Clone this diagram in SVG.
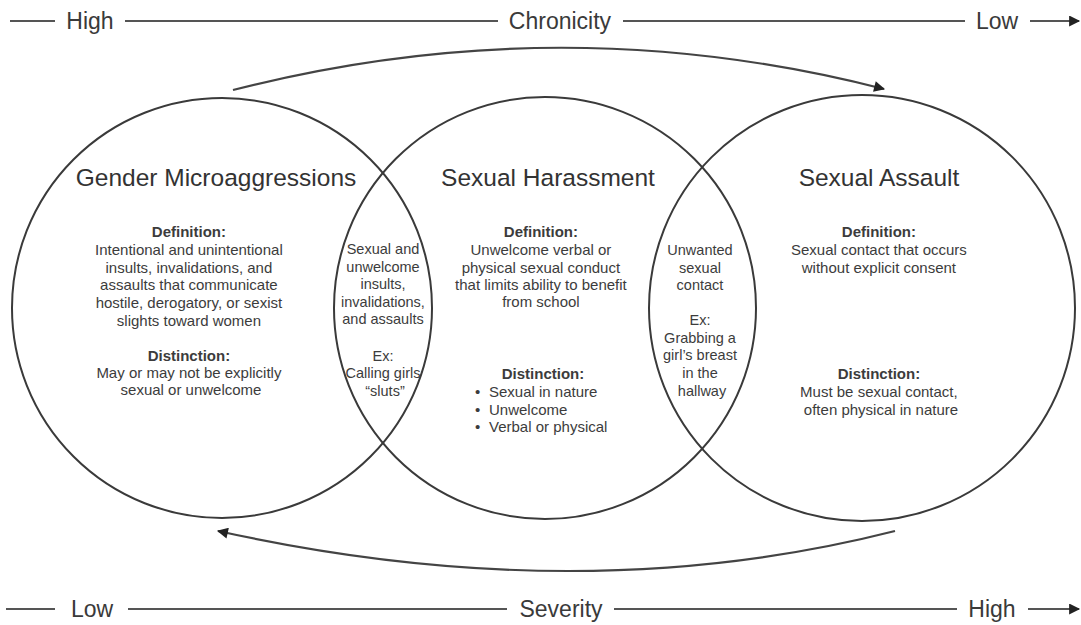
<svg xmlns="http://www.w3.org/2000/svg" width="1081" height="625" viewBox="0 0 1081 625">
<defs>
<marker id="ah2" viewBox="0 0 10 10" refX="9" refY="5" markerWidth="13" markerHeight="11" markerUnits="userSpaceOnUse" orient="auto">
<path d="M0,0 L10,5 L0,10 z" fill="#222"/>
</marker>
</defs>
<style>
text{font-family:"Liberation Sans",Arial,Helvetica,sans-serif;fill:#333}
.axis{font-size:23px;text-anchor:middle;fill:#3a3a3a}
.title{font-size:24.5px;text-anchor:middle;fill:#333}
.body{font-size:15px;text-anchor:middle;fill:#3c3c3c}
.lens{font-size:14.5px}
.lbl{font-weight:bold}
.circ{fill:none;stroke:#3a3a3a;stroke-width:2}
.line{stroke:#555;stroke-width:2;fill:none}
.arc{stroke:#444;stroke-width:2.2;fill:none}
</style>
<rect width="1081" height="625" fill="#fff"/>

<g id="connectors">
<line class="line" x1="10" y1="21" x2="55" y2="21"/>
<line class="line" x1="125" y1="21" x2="498" y2="21"/>
<line class="line" x1="623" y1="21" x2="965" y2="21"/>
<line class="line" x1="1030" y1="21" x2="1079" y2="21" marker-end="url(#ah2)"/>
<line class="line" x1="6" y1="609" x2="55" y2="609"/>
<line class="line" x1="128" y1="609" x2="507" y2="609"/>
<line class="line" x1="614" y1="609" x2="957" y2="609"/>
<line class="line" x1="1028" y1="609" x2="1079" y2="609" marker-end="url(#ah2)"/>
<path class="arc" d="M233,90 Q560,6 884,89" marker-end="url(#ah2)"/>
<path class="arc" d="M895,531 Q580,611 218,531" marker-end="url(#ah2)"/>
</g>

<g id="axis-labels">
<text class="axis" x="90" y="29">High</text>
<text class="axis" x="560" y="29">Chronicity</text>
<text class="axis" x="997" y="29">Low</text>
<text class="axis" x="92" y="617">Low</text>
<text class="axis" x="561" y="617">Severity</text>
<text class="axis" x="992" y="617">High</text>
</g>

<g id="node-gender-microaggressions">
<circle class="circ" cx="222" cy="308" r="210"/>
<text class="title" x="216" y="186">Gender Microaggressions</text>
<text class="body" x="191" y="237"><tspan class="lbl">Definition:</tspan>
<tspan x="191" y="255">Intentional and unintentional</tspan>
<tspan x="191" y="272.5">insults, invalidations, and</tspan>
<tspan x="191" y="290">assaults that communicate</tspan>
<tspan x="191" y="308">hostile, derogatory, or sexist</tspan>
<tspan x="191" y="326">slights toward women</tspan>
<tspan x="191" y="361" class="lbl">Distinction:</tspan>
<tspan x="191" y="378">May or may not be explicitly</tspan>
<tspan x="191" y="395">sexual or unwelcome</tspan></text>
</g>

<g id="node-sexual-harassment">
<circle class="circ" cx="545" cy="308" r="211"/>
<text class="title" x="548" y="186">Sexual Harassment</text>
<text class="body" x="543" y="237"><tspan class="lbl">Definition:</tspan>
<tspan x="543" y="255">Unwelcome verbal or</tspan>
<tspan x="543" y="272.5">physical sexual conduct</tspan>
<tspan x="543" y="290">that limits ability to benefit</tspan>
<tspan x="543" y="307">from school</tspan>
<tspan x="543" y="379" class="lbl">Distinction:</tspan></text>
<text class="body" style="text-anchor:start" x="475" y="397">•<tspan x="489">Sexual in nature</tspan>
<tspan x="475" y="414.5">•</tspan><tspan x="489" y="414.5">Unwelcome</tspan>
<tspan x="475" y="432">•</tspan><tspan x="489" y="432">Verbal or physical</tspan></text>
</g>

<g id="node-sexual-assault">
<circle class="circ" cx="862" cy="308" r="213"/>
<text class="title" x="879" y="186">Sexual Assault</text>
<text class="body" x="881" y="237"><tspan class="lbl">Definition:</tspan>
<tspan x="881" y="255">Sexual contact that occurs</tspan>
<tspan x="881" y="272.5">without explicit consent</tspan>
<tspan x="881" y="379" class="lbl">Distinction:</tspan>
<tspan x="881" y="397">Must be sexual contact,</tspan>
<tspan x="881" y="414.5">often physical in nature</tspan></text>
</g>

<g id="node-overlap-gm-sh">
<text class="body lens" x="385" y="254">Sexual and
<tspan x="385" y="272">unwelcome</tspan>
<tspan x="385" y="289">insults,</tspan>
<tspan x="385" y="307">invalidations,</tspan>
<tspan x="385" y="324">and assaults</tspan>
<tspan x="385" y="361">Ex:</tspan>
<tspan x="385" y="378">Calling girls</tspan>
<tspan x="385" y="396">“sluts”</tspan></text>
</g>

<g id="node-overlap-sh-sa">
<text class="body lens" x="702" y="255">Unwanted
<tspan x="702" y="273">sexual</tspan>
<tspan x="702" y="290">contact</tspan>
<tspan x="702" y="325">Ex:</tspan>
<tspan x="702" y="343">Grabbing a</tspan>
<tspan x="702" y="360">girl’s breast</tspan>
<tspan x="702" y="378">in the</tspan>
<tspan x="702" y="396">hallway</tspan></text>
</g>
</svg>
